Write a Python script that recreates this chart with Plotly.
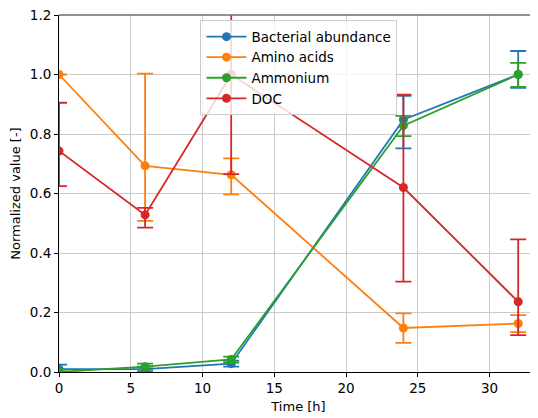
import plotly.graph_objects as go

time_h = [0, 6, 12, 24, 32]

series_names = ["Bacterial abundance", "Amino acids", "Ammonium", "DOC"]

bact = [0.010, 0.010, 0.028, 0.848, 1.000]
bact_err_plus = [0.015, 0.008, 0.010, 0.080, 0.079]
bact_err_minus = [0.015, 0.008, 0.010, 0.096, 0.045]

amino = [1.000, 0.693, 0.663, 0.148, 0.163]
amino_err_plus = [0.0, 0.310, 0.055, 0.049, 0.028]
amino_err_minus = [0.0, 0.185, 0.066, 0.050, 0.029]

ammon = [0.000, 0.018, 0.042, 0.828, 1.000]
ammon_err_plus = [0.008, 0.010, 0.010, 0.033, 0.039]
ammon_err_minus = [0.008, 0.010, 0.010, 0.035, 0.042]

doc = [0.743, 0.528, 1.000, 0.620, 0.236]
doc_err_plus = [0.162, 0.024, 0.335, 0.312, 0.210]
doc_err_minus = [0.118, 0.043, 0.335, 0.316, 0.112]

x_ticks = [0, 5, 10, 15, 20, 25, 30]
y_ticks = [0.0, 0.2, 0.4, 0.6, 0.8, 1.0, 1.2]

colors = ["#1f77b4", "#ff7f0e", "#2ca02c", "#d62728"]
values = [bact, amino, ammon, doc]
errs_p = [bact_err_plus, amino_err_plus, ammon_err_plus, doc_err_plus]
errs_m = [bact_err_minus, amino_err_minus, ammon_err_minus, doc_err_minus]

fig = go.Figure()
for name, col, v, ep, em in zip(series_names, colors, values, errs_p, errs_m):
    fig.add_trace(go.Scatter(
        x=time_h, y=v, name=name, mode="lines+markers",
        line=dict(color=col, width=1.8),
        marker=dict(color=col, size=9),
        error_y=dict(type="data", symmetric=False, array=ep, arrayminus=em,
                     color=col, thickness=1.8, width=8),
        cliponaxis=True,
    ))

font = "DejaVu Sans, sans-serif"
fig.update_layout(
    width=530, height=410,
    margin=dict(l=51, r=0, t=7, b=46),
    paper_bgcolor="white", plot_bgcolor="white",
    font=dict(family=font, size=13.5, color="black"),
    showlegend=True,
    legend=dict(x=0.501, y=0.985, xanchor="center", yanchor="top",
                bgcolor="rgba(255,255,255,0.8)", bordercolor="#cccccc",
                borderwidth=1, font=dict(size=13.5), tracegroupgap=0,
                itemwidth=40),
    xaxis=dict(range=[0, 33.38], tickvals=x_ticks, ticktext=[str(t) for t in x_ticks],
               showgrid=True, gridcolor="#cbcbcb", gridwidth=1,
               showline=True, linecolor="black", linewidth=1,
               ticks="outside", ticklen=4, tickcolor="black",
               zeroline=False, automargin=False,
               title=dict(text="Time [h]", font=dict(size=13), standoff=6)),
    yaxis=dict(range=[0, 1.2], tickvals=y_ticks, ticktext=[f"{t:.1f}" for t in y_ticks],
               showgrid=True, gridcolor="#cbcbcb", gridwidth=1,
               showline=True, linecolor="black", linewidth=1,
               ticks="outside", ticklen=4, tickcolor="black",
               zeroline=False, automargin=False, ticklabeloverflow="allow",
               title=dict(text="Normalized value [-]", font=dict(size=13), standoff=8)),
)
fig.add_shape(type="line", xref="paper", yref="paper", x0=0, x1=1, y0=1, y1=1,
              line=dict(color="#6e6e6e", width=1.5))

fig.write_html("out.html")
